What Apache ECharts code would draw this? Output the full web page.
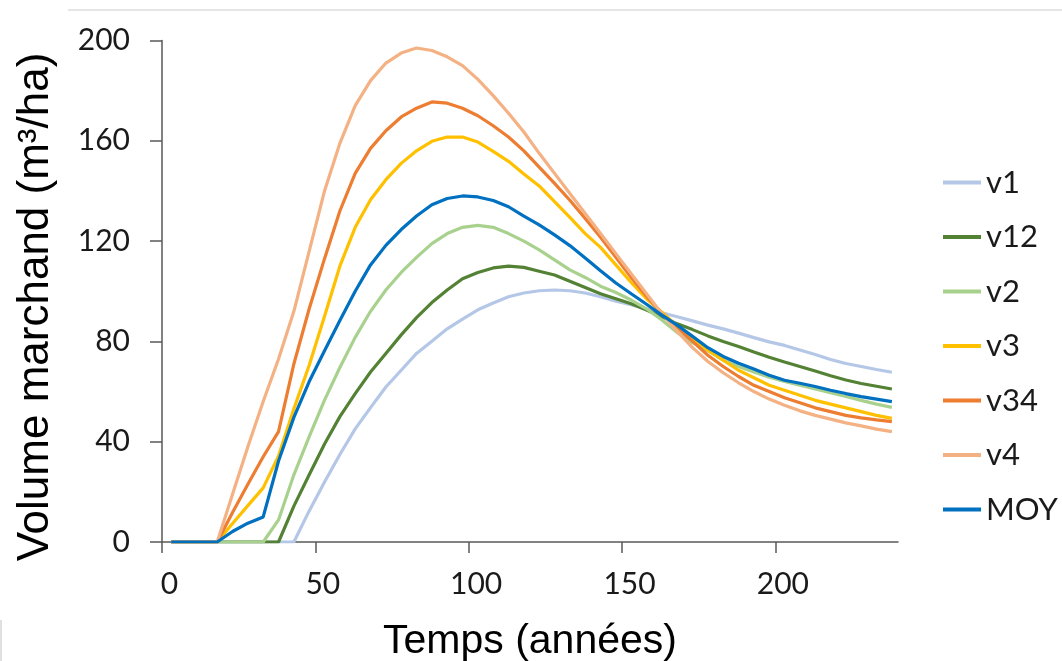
<!DOCTYPE html>
<html>
<head>
<meta charset="utf-8">
<script src="https://cdn.jsdelivr.net/npm/echarts@6/dist/echarts.min.js"></script>
<style>
html,body{margin:0;padding:0;background:#fff;}
#chart{width:1062px;height:661px;}
</style>
</head>
<body>
<div id="chart"></div>
<script>
const years = [3,8,13,18,23,28,33,38,43,48,53,58,63,68,73,78,83,88,93,98,103,108,113,118,123,128,133,138,143,148,153,158,163,168,173,178,183,188,193,198,203,208,213,218,223,228,233,238];

const v1 = [0,0,0,0,0,0,0,0,0,12.4,23.9,34.9,45.1,53.6,61.8,68.5,75.2,80.1,85,88.9,92.6,95.3,97.8,99.3,100.2,100.5,100.2,99.3,97.8,96,94.6,93,91.4,89.8,88.2,86.5,85,83.3,81.5,79.8,78.4,76.6,74.8,72.8,71.2,70,68.8,67.7];
const v12 = [0,0,0,0,0,0,0,0,14.3,26.8,39.1,50,59.2,67.8,75.2,82.6,89.5,95.5,100.5,105,107.5,109.3,110,109.5,108,106.5,104,101.5,99,97,95,92.5,89.8,87,84.7,82.2,80,78,75.8,73.7,71.8,70,68.2,66.3,64.6,63.2,62.1,61];
const v2 = [0,0,0,0,0,0,0,8.8,26.8,42,56.6,69.6,81.6,92,100.5,107.5,113.5,119,123,125.5,126.3,125.5,123,120,116.5,112.5,108.5,105.5,102,99.5,96.5,93,88.5,83.5,79.5,76.3,72.5,70,67.8,65.7,64,62.5,61,59.5,58,56.5,55,53.7];
const v3 = [0,0,0,0,7.4,14.5,21.6,34.3,53.1,70.5,90,110,125.5,136.5,144.5,151,156,159.8,161.5,161.5,159.5,155.8,151.8,146.8,142,135.7,129.5,123,117.5,110.5,103.5,97,91.6,86.2,81,76.5,72.5,68.5,65.5,62.5,60.5,58.5,56.5,55,53.5,52,50.5,49.3];
const v34 = [0,0,0,0,11.8,23,34,44,71,93,113,132,147,157,164,169.5,173,175.5,175,173,170,166,161.5,156,149.5,143,136.3,129,121.5,113.5,105.5,98,91,85.5,80,74.5,70,66,62.5,60,57.5,55.5,53.5,52,50.5,49.5,48.7,48];
const v4 = [0,0,0,0,19,38,56,73,92,116,140,159,174,184,191,195,197,196,193.5,190,184.5,178,171,163.5,155,147,139,131,123,115,107,99,91,84,77.5,72,67.5,63.5,60,57,54.5,52.3,50.5,49,47.5,46.3,45,44];
const moy = [0,0,0,0,4.2,7.5,10,32.3,49.7,64,76.3,88.3,100,110.5,118.3,124.6,130,134.5,137,138,137.6,136.2,133.7,130,126.5,122.5,118.2,113.3,108.2,103.3,99,94.8,90.5,86.5,82,77.5,74,71.3,69,66.5,64.5,63.3,62,60.5,59.2,58,57,56];

const seriesNames = ['v1','v12','v2','v3','v34','v4','MOY'];
const seriesData = [v1, v12, v2, v3, v34, v4, moy];
const seriesColors = ['#B4C7E7','#548235','#A9D18E','#FFC000','#ED7D31','#F4B183','#0070C0'];

const xTicks = [0,50,100,150,200];
const yTicks = [0,40,80,120,160,200];
const xTitle = 'Temps (années)';
const yTitle = 'Volume marchand (m³/ha)';

const chart = echarts.init(document.getElementById('chart'), null, {renderer:'canvas'});

const series = seriesNames.map((name, i) => ({
  name: name,
  type: 'line',
  data: years.map((x, j) => [x, seriesData[i][j]]),
  symbol: 'none',
  showSymbol: false,
  smooth: false,
  lineStyle: { color: seriesColors[i], width: 3.2 },
  itemStyle: { color: seriesColors[i] },
  emphasis: { disabled: true },
  z: 2 + i
}));

chart.setOption({
  animation: false,
  backgroundColor: '#ffffff',
  grid: { left: 162, right: 164, top: 40.5, bottom: 119, containLabel: false },
  xAxis: {
    type: 'value', min: 0, max: 240, interval: 50,
    axisLine: { show: true, lineStyle: { color: '#595959', width: 1.5 } },
    axisTick: { show: true, length: 11, inside: false, customValues: xTicks, lineStyle: { color: '#595959', width: 1.5 } },
    axisLabel: { customValues: xTicks, margin: 27, padding: [0,0,0,15], fontFamily: 'Lato', fontSize: 30, color: '#1a1a1a' },
    splitLine: { show: false }
  },
  yAxis: {
    type: 'value', min: 0, max: 200, interval: 40,
    axisLine: { show: true, lineStyle: { color: '#595959', width: 1.5 } },
    axisTick: { show: true, length: 12, customValues: yTicks, lineStyle: { color: '#595959', width: 1.5 } },
    axisLabel: { customValues: yTicks, margin: 32, fontFamily: 'Lato', fontSize: 30, color: '#1a1a1a' },
    splitLine: { show: false }
  },
  legend: {
    orient: 'vertical', left: 943, top: 167, padding: 0,
    icon: 'rect',
    itemWidth: 38, itemHeight: 4, itemGap: 23.5,
    data: seriesNames,
    textStyle: { fontFamily: 'Lato', fontSize: 31, color: '#1a1a1a', lineHeight: 30 }
  },
  graphic: [
    { type: 'line', shape: { x1: 68, y1: 10, x2: 1062, y2: 10 }, style: { stroke: '#dcdcdc', lineWidth: 1.5 }, silent: true },
    { type: 'rect', shape: { x: 0, y: 620, width: 2, height: 41 }, style: { fill: '#e0e0e0' }, silent: true },
    { type: 'text', x: 36, y: 307, rotation: Math.PI / 2,
      style: { text: yTitle, fontFamily: 'Liberation Sans', fontSize: 44, fill: '#000', align: 'center', verticalAlign: 'middle' } },
    { type: 'text', x: 530, y: 642,
      style: { text: xTitle, fontFamily: 'Liberation Sans', fontSize: 41, fill: '#000', align: 'center', verticalAlign: 'middle' } }
  ],
  series: series
});
</script>
</body>
</html>
